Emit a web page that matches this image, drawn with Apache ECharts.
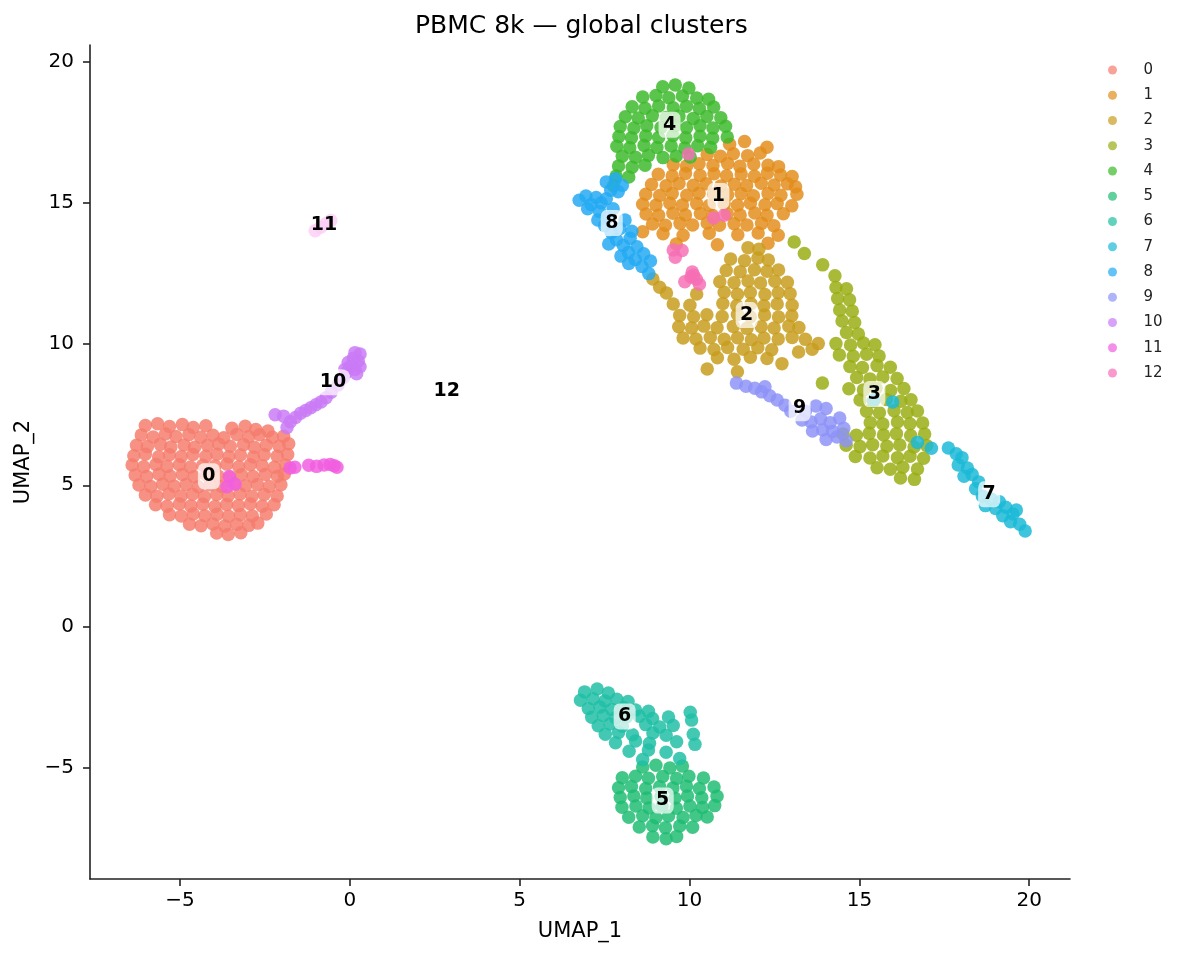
<!DOCTYPE html>
<html>
<head>
<meta charset="utf-8">
<title>PBMC 8k — global clusters</title>
<script src="https://cdn.jsdelivr.net/npm/echarts@6/dist/echarts.min.js"></script>
<style>
  html, body { margin: 0; padding: 0; background: #fff; }
  #chart { width: 1186px; height: 959px; }
</style>
</head>
<body>
<div id="chart"></div>
<script>
// cluster names and colours
var clusters = ['0', '1', '2', '3', '4', '5', '6', '7', '8', '9', '10', '11', '12'];
var colors = ['#f47c6c', '#e28d1c', '#c79c1c', '#98ad12', '#3cb92a', '#1ebc72', '#1fbfa4',
  '#1ab9d6', '#22a9f2', '#8d93f7', '#c979f5', '#f15ee0', '#f56fb5'];

// where each cluster's number sits (UMAP_1, UMAP_2)
var labelPos = [
  [-4.15, 5.32], [10.85, 15.25], [11.68, 11.03], [15.44, 8.23], [9.41, 17.77],
  [9.21, -6.17], [8.09, -3.19], [18.82, 4.68], [7.71, 14.29], [13.24, 7.73],
  [-0.5, 8.65], [-0.76, 14.22], [2.85, 8.33]
];

var xTicks = [-5, 0, 5, 10, 15, 20];
var yTicks = [-5, 0, 5, 10, 15, 20];

// cells, cluster by cluster
var c0 = [
  [-6.02,7.12],[-5.66,7.18],[-5.31,7.08],[-4.93,7.15],[-4.61,7.05],[-4.24,7.11],[-3.47,7.02],[-3.08,7.09],[-2.77,6.98],[-2.41,6.92],
  [-6.14,6.78],[-5.79,6.71],[-5.43,6.82],[-5.12,6.73],[-4.74,6.79],[-4.39,6.70],[-4.03,6.77],[-3.71,6.68],[-3.33,6.80],[-2.98,6.72],[-2.66,6.79],[-2.28,6.70],[-1.95,6.74],
  [-6.28,6.42],[-5.96,6.37],[-5.58,6.45],[-5.27,6.36],[-4.88,6.43],[-4.57,6.35],[-4.19,6.41],[-3.86,6.46],[-3.52,6.38],[-3.13,6.44],[-2.81,6.35],[-2.46,6.42],[-2.08,6.38],[-1.80,6.47],
  [-6.36,6.05],[-6.02,6.10],[-5.63,6.01],[-5.31,6.08],[-4.96,6.02],[-4.62,6.09],[-4.24,6.03],[-3.91,6.10],[-3.56,6.01],[-3.22,6.07],[-2.84,6.00],[-2.52,6.08],[-2.14,6.03],[-1.83,6.09],
  [-6.41,5.72],[-6.07,5.66],[-5.71,5.74],[-5.38,5.67],[-5.02,5.73],[-4.69,5.65],[-4.33,5.71],[-3.97,5.68],[-3.62,5.75],[-3.27,5.66],[-2.93,5.73],[-2.58,5.69],[-2.22,5.64],[-1.89,5.71],
  [-6.32,5.36],[-5.98,5.31],[-5.62,5.39],[-5.29,5.33],[-4.93,5.38],[-4.58,5.30],[-4.22,5.36],[-3.88,5.33],[-3.53,5.29],[-3.19,5.37],[-2.85,5.31],[-2.49,5.38],[-2.13,5.32],[-1.93,5.40],
  [-6.21,5.01],[-5.86,4.96],[-5.51,5.04],[-5.17,4.97],[-4.82,5.03],[-4.46,4.95],[-4.11,5.02],[-3.77,4.96],[-3.42,5.05],[-3.07,4.98],[-2.72,5.03],[-2.37,4.96],[-2.03,5.02],
  [-6.02,4.66],[-5.68,4.61],[-5.33,4.69],[-4.97,4.62],[-4.63,4.68],[-4.28,4.60],[-3.92,4.67],[-3.58,4.63],[-3.23,4.69],[-2.88,4.61],[-2.52,4.67],[-2.14,4.62],
  [-5.72,4.31],[-5.38,4.26],[-5.02,4.34],[-4.68,4.27],[-4.33,4.33],[-3.97,4.25],[-3.63,4.32],[-3.28,4.28],[-2.93,4.34],[-2.58,4.26],[-2.23,4.31],
  [-5.31,3.96],[-4.96,3.91],[-4.61,3.98],[-4.27,3.92],[-3.91,3.97],[-3.57,3.90],[-3.22,3.96],[-2.87,3.91],[-2.46,3.98],
  [-4.72,3.62],[-4.38,3.57],[-4.03,3.63],[-3.68,3.56],[-3.33,3.61],[-2.98,3.58],[-2.71,3.66],
  [-3.92,3.31],[-3.58,3.26],[-3.21,3.32]
];
var c1 = [
  [11.18,17.08],[11.62,17.18],[12.28,16.98],
  [10.52,16.72],[10.91,16.66],[11.29,16.75],[11.71,16.68],[12.08,16.77],
  [9.52,16.36],[9.91,16.31],[10.28,16.39],[10.69,16.33],[11.12,16.40],[11.48,16.30],[11.89,16.38],[12.31,16.34],[12.62,16.29],
  [9.08,16.02],[9.49,15.96],[9.88,16.05],[10.31,15.98],[10.72,16.04],[11.09,15.97],[11.52,16.03],[11.91,15.95],[12.29,16.06],[12.68,15.99],[13.02,15.94],
  [8.88,15.66],[9.31,15.61],[9.69,15.69],[10.11,15.63],[10.49,15.68],[10.92,15.60],[11.32,15.67],[11.68,15.62],[12.11,15.70],[12.49,15.64],[12.88,15.68],[13.12,15.58],
  [8.71,15.31],[9.12,15.27],[9.49,15.34],[9.92,15.28],[10.28,15.35],[10.71,15.32],[11.12,15.29],[11.52,15.33],[11.88,15.26],[12.31,15.34],[12.69,15.28],[13.16,15.31],
  [8.62,14.96],[9.01,14.92],[9.42,14.99],[9.79,14.93],[10.21,14.98],[10.58,14.91],[11.02,14.97],[11.41,14.92],[11.79,14.99],[12.22,14.94],[12.58,14.98],[13.01,14.90],
  [8.72,14.61],[9.09,14.57],[9.51,14.64],[9.88,14.58],[10.32,14.63],[10.68,14.56],[11.11,14.62],[11.49,14.58],[11.92,14.65],[12.28,14.57],[12.76,14.62],
  [8.91,14.26],[9.29,14.21],[9.72,14.28],[10.09,14.22],[10.52,14.29],[10.88,14.21],[11.31,14.27],[11.69,14.22],[12.12,14.28],[12.48,14.20],
  [9.22,13.91],[9.81,13.86],[10.58,13.93],[11.42,13.88],[12.02,13.94],[12.61,13.86],
  [9.61,13.55],[10.82,13.52],[12.31,13.58],[8.62,13.98]
];
var c2 = [
  [11.72,13.42],[12.04,13.36],
  [11.21,13.02],[11.62,12.96],[12.01,13.05],[12.32,12.98],
  [11.08,12.61],[11.49,12.57],[11.91,12.64],[12.28,12.58],[12.62,12.63],
  [10.89,12.21],[11.31,12.18],[11.72,12.24],[12.09,12.17],[12.51,12.23],[12.88,12.19],
  [9.32,11.81],[10.21,11.78],[11.02,11.84],[11.41,11.77],[11.79,11.83],[12.22,11.76],[12.61,11.82],[12.96,11.79],
  [9.52,11.42],[10.01,11.38],[10.98,11.44],[11.39,11.37],[11.81,11.43],[12.19,11.36],[12.58,11.42],[13.02,11.38],
  [9.71,11.02],[10.12,10.97],[10.51,11.04],[10.96,10.98],[11.41,11.05],[11.79,10.97],[12.21,11.03],[12.62,10.96],[13.01,11.01],
  [9.68,10.62],[10.06,10.57],[10.42,10.64],[10.81,10.58],[11.29,10.63],[11.69,10.56],[12.11,10.62],[12.49,10.57],[12.92,10.64],[13.22,10.59],
  [9.81,10.22],[10.19,10.18],[10.61,10.24],[11.02,10.17],[11.41,10.23],[11.82,10.16],[12.19,10.22],[12.61,10.18],[13.02,10.24],[13.41,10.17],[13.79,10.02],
  [10.31,9.86],[10.72,9.81],[11.12,9.88],[11.58,9.82],[12.01,9.87],[12.42,9.80],[13.61,9.82],
  [10.82,9.52],[11.31,9.47],[11.79,9.54],[12.28,9.49],
  [8.92,12.31],[9.12,12.02],[10.52,9.12],[11.41,9.02],[12.72,9.31],[13.21,9.72]
];
var c3 = [
  [13.08,13.62],[13.38,13.21],[13.92,12.81],[14.28,12.42],
  [14.31,12.01],[14.62,11.96],[14.36,11.62],[14.71,11.57],
  [14.42,11.21],[14.79,11.17],[14.49,10.82],[14.86,10.77],
  [14.62,10.41],[14.97,10.36],
  [14.31,10.02],[14.74,9.97],[15.12,10.04],[15.46,9.98],
  [14.41,9.62],[14.82,9.57],[15.21,9.64],[15.58,9.58],
  [14.72,9.21],[15.09,9.17],[15.52,9.24],[15.91,9.18],
  [14.92,8.82],[15.31,8.77],[15.69,8.84],[16.11,8.78],
  [14.69,8.42],[15.12,8.38],[15.49,8.44],[15.92,8.36],[16.31,8.43],
  [15.02,8.02],[15.41,7.97],[15.79,8.04],[16.22,7.98],[16.52,8.03],
  [15.21,7.62],[15.59,7.57],[16.02,7.64],[16.41,7.58],[16.71,7.63],
  [15.32,7.22],[15.69,7.17],[16.12,7.24],[16.49,7.18],[16.86,7.21],
  [14.52,6.82],[14.91,6.77],[15.29,6.84],[15.71,6.78],[16.09,6.83],[16.51,6.76],[16.92,6.82],
  [14.61,6.42],[15.02,6.37],[15.39,6.44],[15.81,6.38],[16.19,6.43],[16.61,6.36],[16.98,6.41],
  [14.88,6.02],[15.31,5.97],[15.69,6.04],[16.12,5.98],[16.49,6.03],[16.89,5.96],
  [15.52,5.62],[15.91,5.57],[16.28,5.64],[16.71,5.58],
  [16.21,5.26],[16.62,5.21],[13.91,8.62]
];
var c4 = [
  [9.21,19.12],[9.58,19.18],[9.98,19.08],
  [8.62,18.76],[9.01,18.81],[9.39,18.73],[9.79,18.79],[10.21,18.72],[10.56,18.68],
  [8.31,18.41],[8.69,18.36],[9.09,18.44],[9.52,18.38],[9.91,18.43],[10.29,18.35],[10.71,18.40],
  [8.11,18.06],[8.49,18.01],[8.91,18.09],[9.31,18.03],[9.69,18.08],[10.11,18.00],[10.51,18.07],[10.92,18.02],
  [7.96,17.71],[8.36,17.66],[8.74,17.74],[9.16,17.68],[9.56,17.73],[9.91,17.67],[10.31,17.74],[10.69,17.66],[11.06,17.72],
  [7.92,17.36],[8.29,17.31],[8.71,17.38],[9.09,17.32],[9.51,17.39],[9.89,17.31],[10.31,17.37],[10.68,17.30],[11.11,17.34],
  [7.86,17.01],[8.24,16.96],[8.66,17.04],[9.04,16.97],[9.46,17.02],[9.86,16.95],[10.24,17.03],[10.62,16.97],
  [8.02,16.66],[8.41,16.62],[8.79,16.69],[9.22,16.61],[9.61,16.67],[10.02,16.63],
  [7.91,16.31],[8.31,16.27],[8.69,16.34],
  [7.84,15.96],[8.21,15.92],[7.76,15.61]
];
var c5 = [
  [8.62,-4.98],[9.01,-4.92],[9.42,-5.02],[9.79,-4.95],
  [8.02,-5.36],[8.41,-5.31],[8.79,-5.38],[9.21,-5.32],[9.62,-5.39],[9.98,-5.31],[10.41,-5.37],
  [7.91,-5.72],[8.29,-5.67],[8.71,-5.74],[9.12,-5.68],[9.51,-5.73],[9.91,-5.66],[10.29,-5.74],[10.72,-5.69],
  [7.96,-6.06],[8.36,-6.01],[8.74,-6.08],[9.16,-6.02],[9.57,-6.09],[9.94,-6.01],[10.36,-6.07],[10.81,-6.02],
  [8.01,-6.41],[8.42,-6.36],[8.81,-6.43],[9.19,-6.37],[9.61,-6.44],[10.01,-6.36],[10.38,-6.42],[10.74,-6.35],
  [8.21,-6.76],[8.62,-6.71],[9.01,-6.78],[9.38,-6.72],[9.81,-6.77],[10.19,-6.70],[10.52,-6.75],
  [8.52,-7.11],[8.91,-7.06],[9.29,-7.13],[9.71,-7.07],[10.09,-7.12],
  [8.92,-7.46],[9.31,-7.52],[9.62,-7.44]
];
var c6 = [
  [6.91,-2.32],[7.28,-2.22],[7.61,-2.36],
  [6.79,-2.62],[7.16,-2.56],[7.51,-2.64],[7.86,-2.58],[8.19,-2.66],
  [7.02,-2.91],[7.36,-2.86],[7.71,-2.94],[8.06,-2.88],[8.41,-2.96],[8.79,-3.01],
  [7.12,-3.22],[7.46,-3.16],[7.82,-3.24],[8.15,-3.20],[8.52,-3.18],[8.91,-3.26],[9.38,-3.21],[10.02,-3.04],[10.06,-3.32],
  [7.31,-3.52],[7.66,-3.46],[8.02,-3.54],[8.71,-3.48],[9.12,-3.56],[9.52,-3.51],
  [7.52,-3.82],[7.91,-3.76],[8.32,-3.84],[8.92,-3.78],[9.31,-3.86],[10.11,-3.82],
  [7.82,-4.12],[8.41,-4.06],[8.82,-4.14],[9.62,-4.09],[10.16,-4.18],
  [8.22,-4.42],[8.79,-4.38],[9.31,-4.46],
  [8.62,-4.72],[9.71,-4.68]
];
var c7 = [
  [17.62,6.32],[17.85,6.12],[18.02,5.98],[17.91,5.72],[18.18,5.61],[18.32,5.38],[18.08,5.32],[18.51,5.12],[18.42,4.88],
  [18.62,4.62],[18.88,4.51],[19.12,4.42],[18.71,4.28],[19.01,4.18],[19.31,4.22],[19.22,3.92],[19.52,3.98],
  [19.45,3.71],[19.72,3.62],[19.88,3.38],[19.62,4.12],
  [15.42,8.02],[15.98,7.95],[16.71,6.52],[17.12,6.31]
];
var c8 = [
  [6.75,15.10],[6.95,15.25],[7.10,14.95],[7.25,15.20],[7.40,15.00],[7.55,15.15],[7.00,14.80],[7.35,14.70],
  [7.55,15.75],[7.82,15.86],[8.02,15.62],[7.68,15.45],
  [7.60,14.50],[7.75,14.80],[7.50,14.20],[7.70,13.95],[7.95,14.10],[7.85,13.70],[8.05,13.50],[8.25,13.75],
  [8.20,13.25],[8.45,13.45],[8.40,13.00],[8.65,13.20],[8.60,12.75],[8.85,12.95],[8.80,12.50],[7.90,15.40],
  [8.10,14.40],[8.30,14.00],[7.30,14.40],[7.62,13.55],[7.98,13.12],[8.21,12.86]
];
var c9 = [
  [11.38,8.62],[11.66,8.51],[11.92,8.44],[12.12,8.31],[12.36,8.17],[12.58,8.02],[12.81,7.84],[12.98,7.62],[12.22,8.49],
  [13.41,7.62],[13.72,7.81],[14.02,7.72],[13.31,7.31],[13.58,7.24],[13.86,7.36],[14.14,7.22],[14.42,7.38],
  [13.62,6.92],[13.92,6.96],[14.21,6.91],[14.54,7.02],[14.02,6.62],[14.34,6.71],[14.61,6.58]
];
var c10 = [
  [-2.20,7.50],[-1.95,7.45],[-1.85,7.05],[-1.75,7.25],[-1.60,7.40],[-1.45,7.55],[-1.30,7.65],[-1.15,7.75],
  [-1.00,7.85],[-0.85,7.95],[-0.70,8.10],[-0.55,8.30],[-0.35,8.55],[-0.20,8.80],[-0.10,9.00],[0.00,9.20],
  [0.15,9.10],[0.25,9.40],[0.10,9.50],[-0.05,9.35],[0.30,9.65],[0.15,9.70],[0.30,9.20],[-0.15,9.10],[0.20,8.95]
];
var c11 = [
  [-1.76,5.61],[-1.62,5.64],[-1.21,5.71],[-0.98,5.67],[-0.76,5.72],[-0.58,5.74],[-0.46,5.69],[-0.38,5.64],
  [-3.55,5.31],[-3.38,5.04],[-3.62,4.95],
  [-1.02,14.02],[-0.86,14.14],[-0.71,14.27],[-0.56,14.38]
];
var c12 = [
  [10.08,12.56],[10.04,12.38],[9.86,12.21],[10.29,12.12],[10.12,12.44],[10.20,12.30],
  [9.52,13.34],[9.78,13.32],[9.58,13.08],[10.71,14.47],[11.02,14.57],[9.97,16.74]
];
var clusterPoints = [c0, c1, c2, c3, c4, c5, c6, c7, c8, c9, c10, c11, c12];

var font = 'DejaVu Sans';
var chart = echarts.init(document.getElementById('chart'));

var series = clusters.map(function(name, i) {
  return {
    name: name,
    type: 'scatter',
    symbol: 'circle',
    symbolSize: 13.5,
    data: clusterPoints[i],
    itemStyle: { color: colors[i], opacity: 0.84 },
    emphasis: { disabled: true },
    z: 2
  };
});

// cluster numbers in pale boxes: the box is the symbol, the number its label
series.push({
  name: 'labels',
  type: 'scatter',
  symbol: 'roundRect',
  symbolSize: function(v, p) { return [p.name.length > 1 ? 34 : 22, 26]; },
  itemStyle: { color: 'rgba(255,255,255,0.7)', opacity: 1 },
  data: labelPos.map(function(p, i) { return { name: clusters[i], value: p }; }),
  label: {
    show: true,
    position: 'inside',
    formatter: '{b}',
    fontFamily: font,
    fontWeight: 'bold',
    fontSize: 19,
    color: '#000',
    textBorderWidth: 0
  },
  emphasis: { disabled: true },
  silent: true,
  z: 10
});

function minus(v) { return String(v).replace('-', '\u2212'); }

var axisLineStyle = { color: '#222', width: 1.6 };

var option = {
  animation: false,
  backgroundColor: '#fff',
  title: {
    text: 'PBMC 8k — global clusters',
    left: 410,
    top: 9,
    textStyle: { fontFamily: font, fontSize: 25, fontWeight: 'normal', color: '#000' }
  },
  legend: {
    orient: 'vertical',
    left: 1103,
    top: 57,
    data: clusters,
    icon: 'circle',
    itemWidth: 52,
    itemHeight: 9,
    itemGap: 9.25,
    itemStyle: { opacity: 0.7 },
    selectedMode: false,
    textStyle: { fontFamily: font, fontSize: 15, lineHeight: 16, color: '#222' }
  },
  grid: { left: 90, right: 116, top: 45, bottom: 80, containLabel: false },
  xAxis: {
    type: 'value',
    min: -7.65,
    max: 21.2,
    name: 'UMAP_1',
    nameLocation: 'middle',
    nameGap: 42,
    nameTextStyle: { fontFamily: font, fontSize: 21, color: '#000' },
    splitLine: { show: false },
    axisLine: { show: true, onZero: false, lineStyle: axisLineStyle },
    axisTick: { show: true, length: 7, customValues: xTicks, lineStyle: axisLineStyle },
    axisLabel: {
      customValues: xTicks, margin: 12,
      fontFamily: font, fontSize: 20, color: '#000',
      formatter: minus
    }
  },
  yAxis: {
    type: 'value',
    min: -8.95,
    max: 20.6,
    name: 'UMAP_2',
    nameLocation: 'middle',
    nameGap: 55,
    nameTextStyle: { fontFamily: font, fontSize: 21, color: '#000' },
    splitLine: { show: false },
    axisLine: { show: true, onZero: false, lineStyle: axisLineStyle },
    axisTick: { show: true, length: 7, customValues: yTicks, lineStyle: axisLineStyle },
    axisLabel: {
      customValues: yTicks, margin: 16,
      fontFamily: font, fontSize: 20, color: '#000',
      formatter: minus
    }
  },
  series: series
};

chart.setOption(option);
</script>
</body>
</html>
